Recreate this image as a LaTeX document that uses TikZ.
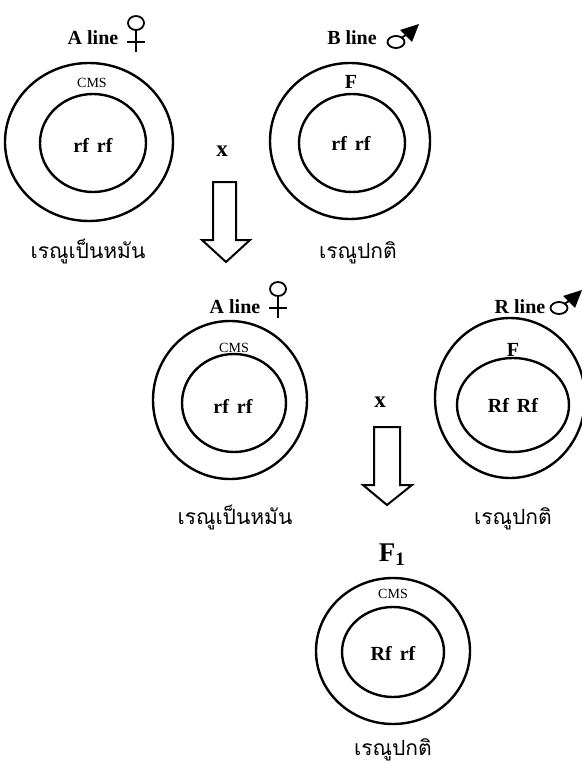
\documentclass[tikz,border=0pt]{standalone}
\usepackage{fontspec}
\setmainfont{Liberation Serif}
\newfontfamily\thaifont[Script=Thai]{Loma}
\usetikzlibrary{shapes.geometric}
\begin{document}
\begin{tikzpicture}[x=1pt,y=-1pt,
  ring/.style={draw, line width=2.4pt, ellipse, inner sep=0pt},
  lbl/.style={font=\fontsize{20}{22}\selectfont\bfseries, inner sep=0pt},
  cross/.style={font=\fontsize{23}{25}\selectfont\bfseries, inner sep=0pt},
  small/.style={font=\fontsize{14}{16}\selectfont, inner sep=0pt},
  thai/.style={font=\thaifont\fontsize{21}{24}\selectfont, inner sep=0pt, anchor=base},
  blockarrow/.style={draw, line width=2pt, line join=miter, fill=white},
  pics/female/.style={code={
     \draw[line width=1.8pt] (0,0) ellipse [x radius=8, y radius=7];
     \draw[line width=1.8pt] (0,7) -- (0,29);
     \draw[line width=1.8pt] (-9,19) -- (9,19);}},
  pics/male/.style={code={
     \draw[line width=1.8pt] (0,0) ellipse [x radius=8.5, y radius=6];
     \draw[line width=1.8pt] (5,-4) -- (10,-7);
     \fill (23,-18) -- (4,-12) -- (16,0) -- cycle;}}
]
\useasboundingbox (0,0) rectangle (581,773);
% ---- top row ----
\node[ring, minimum width=168, minimum height=158] (o1) at (89,142) {};
\node[ring, minimum width=106, minimum height=98] (i1) at (93,143) {};
\node[ring, minimum width=160, minimum height=156] (o2) at (350,141) {};
\node[ring, minimum width=106, minimum height=98] (i2) at (352,143) {};
\node[lbl] (al1) at (93,38) {A line};
\pic at (136,23) {female};
\node[lbl] (bl1) at (352,38) {B line};
\pic at (396,42) {male};
\node[small] (cms1) at (92,83) {CMS};
\node[lbl] (f2) at (351,82) {F};
\node[lbl] (g1) at (93,145) {rf\hspace{0.15em} rf};
\node[lbl] (g2) at (351,143) {rf\hspace{0.15em} rf};
\node[cross] (x1) at (222,151) {x};
\node[thai] (t1) at (88,258) {เรณูเป็นหมัน};
\node[thai] (t2) at (358,258) {เรณูปกติ};
\draw[blockarrow] (213,182) -- (236,182) -- (236,240) -- (250,240) -- (226,262)
  -- (202,240) -- (213,240) -- cycle;
% ---- middle row ----
\node[ring, minimum width=154, minimum height=158] (o3) at (230,400) {};
\node[ring, minimum width=104, minimum height=98] (i3) at (234,403) {};
\node[ring, minimum width=150, minimum height=160] (o4) at (510,398) {};
\node[ring, minimum width=112, minimum height=94] (i4) at (513,405) {};
\node[lbl] (al2) at (235,307) {A line};
\pic at (278,289) {female};
\node[lbl] (rl2) at (520,307) {R line};
\pic at (559,308) {male};
\node[small] (cms3) at (234,348) {CMS};
\node[lbl] (f4) at (513,350) {F};
\node[lbl] (g3) at (233,406) {rf\hspace{0.15em} rf};
\node[lbl] (g4) at (513,405) {Rf\hspace{0.15em} Rf};
\node[cross] (x2) at (380,402) {x};
\node[thai] (t3) at (235,524) {เรณูเป็นหมัน};
\node[thai] (t4) at (513,524) {เรณูปกติ};
\draw[blockarrow] (374,427) -- (400,427) -- (400,485) -- (412,485) -- (387,505)
  -- (363,485) -- (374,485) -- cycle;
% ---- bottom ----
\node[font=\fontsize{27}{30}\selectfont\bfseries, inner sep=0pt] (f1) at (392,555) {F\textsubscript{1}};
\node[ring, minimum width=154, minimum height=146] (o5) at (393,651) {};
\node[ring, minimum width=102, minimum height=90] (i5) at (393,652) {};
\node[small] (cms5) at (393,594) {CMS};
\node[lbl] (g5) at (393,653) {Rf\hspace{0.15em} rf};
\node[thai] (t5) at (393,755) {เรณูปกติ};
\end{tikzpicture}
\end{document}
